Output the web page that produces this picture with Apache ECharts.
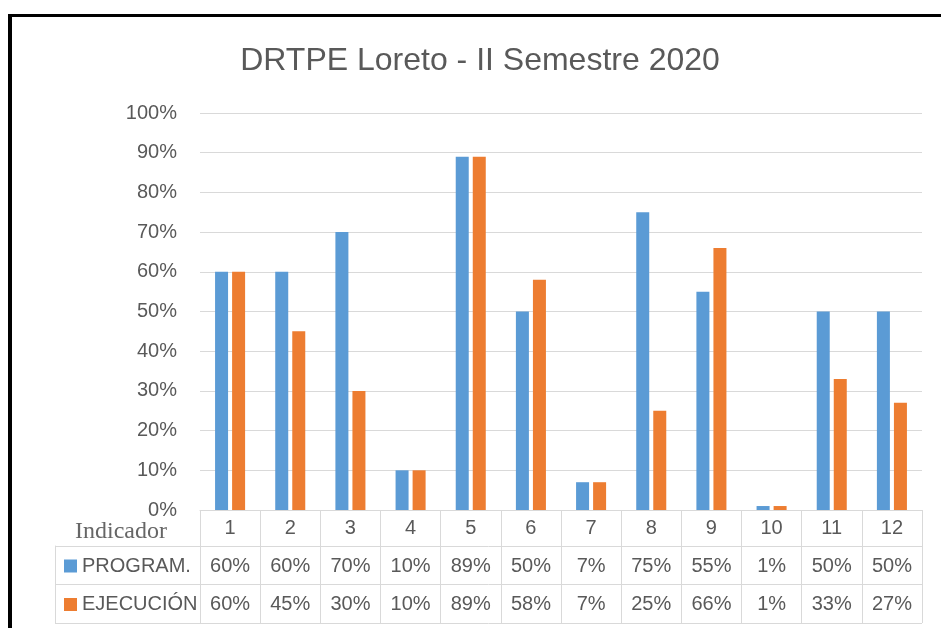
<!DOCTYPE html>
<html>
<head>
<meta charset="utf-8">
<title>DRTPE Loreto - II Semestre 2020</title>
<script src="https://cdn.jsdelivr.net/npm/echarts@6/dist/echarts.min.js"></script>
<style>
  body {
    margin: 0;
    background: #fff;
  }
  .frame {
    position: absolute;
    left: 8px;
    top: 14px;
    width: 960px;
    height: 700px;
    border-top: 3px solid #000;
    border-left: 4px solid #000;
  }
  #chart {
    position: absolute;
    left: 0;
    top: 0;
    width: 941px;
    height: 628px;
  }
</style>
</head>
<body>
<div class="frame"></div>
<div id="chart"></div>
<script>
  const indicadores = ['1', '2', '3', '4', '5', '6', '7', '8', '9', '10', '11', '12']
  const programado = [60, 60, 70, 10, 89, 50, 7, 75, 55, 1, 50, 50]
  const ejecutado = [60, 45, 30, 10, 89, 58, 7, 25, 66, 1, 33, 27]
  const serieNombres = ['PROGRAM.', 'EJECUCIÓN']

  const gris = '#d9d9d9'
  const texto = '#595959'
  const fuente = '"Liberation Sans", Arial, sans-serif'

  // filas de la tabla de datos, debajo del eje
  function filaTabla (valores, offset) {
    return {
      type: 'category',
      gridIndex: 0,
      position: 'bottom',
      offset: offset,
      data: valores.map(v => v + '%'),
      axisLine: { show: false },
      axisTick: { show: false },
      axisLabel: { interval: 0, margin: 8, fontSize: 20, color: texto, fontFamily: fuente }
    }
  }

  let myChart = echarts.init(document.getElementById('chart'), null, { renderer: 'canvas' })
  let option = {
    animation: false,
    backgroundColor: 'transparent',
    textStyle: { fontFamily: fuente },
    title: [
      {
        text: 'DRTPE Loreto - II Semestre 2020',
        left: 480,
        top: 45,
        padding: 0,
        textAlign: 'center',
        textStyle: { fontSize: 32, fontWeight: 'normal', color: texto, fontFamily: fuente }
      },
      {
        text: 'Indicador',
        left: 75,
        top: 520,
        padding: 0,
        textStyle: { fontSize: 24, fontWeight: 'normal', color: '#666', fontFamily: '"Liberation Serif", "Times New Roman", serif' }
      }
    ],
    legend: {
      data: serieNombres,
      orient: 'vertical',
      left: 59,
      top: 551,
      itemWidth: 13,
      itemHeight: 13,
      itemGap: 18.5,
      icon: 'rect',
      selectedMode: false,
      textStyle: { fontSize: 20, lineHeight: 20, color: texto, fontFamily: fuente }
    },
    grid: [
      { left: 200, right: 19, top: 113, height: 397 },
      { left: 55, right: 19, top: 546, height: 77 }
    ],
    xAxis: [
      {
        type: 'category',
        gridIndex: 0,
        data: indicadores,
        axisLine: { lineStyle: { color: gris, width: 1 } },
        axisTick: { show: true, interval: 0, length: 113, lineStyle: { color: gris, width: 1 } },
        axisLabel: { interval: 0, margin: 8, fontSize: 20, color: texto, fontFamily: fuente }
      },
      filaTabla(programado, 38),
      filaTabla(ejecutado, 76.5),
      { type: 'value', gridIndex: 1, show: false, min: 0, max: 1 }
    ],
    yAxis: [
      {
        type: 'value',
        gridIndex: 0,
        min: 0,
        max: 100,
        interval: 10,
        axisLine: { show: false },
        axisTick: { show: false },
        axisLabel: { formatter: '{value}%', margin: 23, fontSize: 20, color: texto, fontFamily: fuente },
        splitLine: { lineStyle: { color: gris, width: 1 } }
      },
      {
        type: 'value',
        gridIndex: 1,
        min: 0,
        max: 2,
        interval: 1,
        axisLine: { show: true, onZero: false, lineStyle: { color: gris, width: 1 } },
        axisTick: { show: false },
        axisLabel: { show: false },
        splitLine: { lineStyle: { color: gris, width: 1 } }
      }
    ],
    series: [
      {
        name: serieNombres[0],
        type: 'bar',
        data: programado,
        barWidth: 13,
        barGap: '31%',
        itemStyle: { color: '#5b9bd5' }
      },
      {
        name: serieNombres[1],
        type: 'bar',
        data: ejecutado,
        barWidth: 13,
        barGap: '31%',
        itemStyle: { color: '#ed7d31' }
      }
    ]
  }
  myChart.setOption(option)
</script>
</body>
</html>
